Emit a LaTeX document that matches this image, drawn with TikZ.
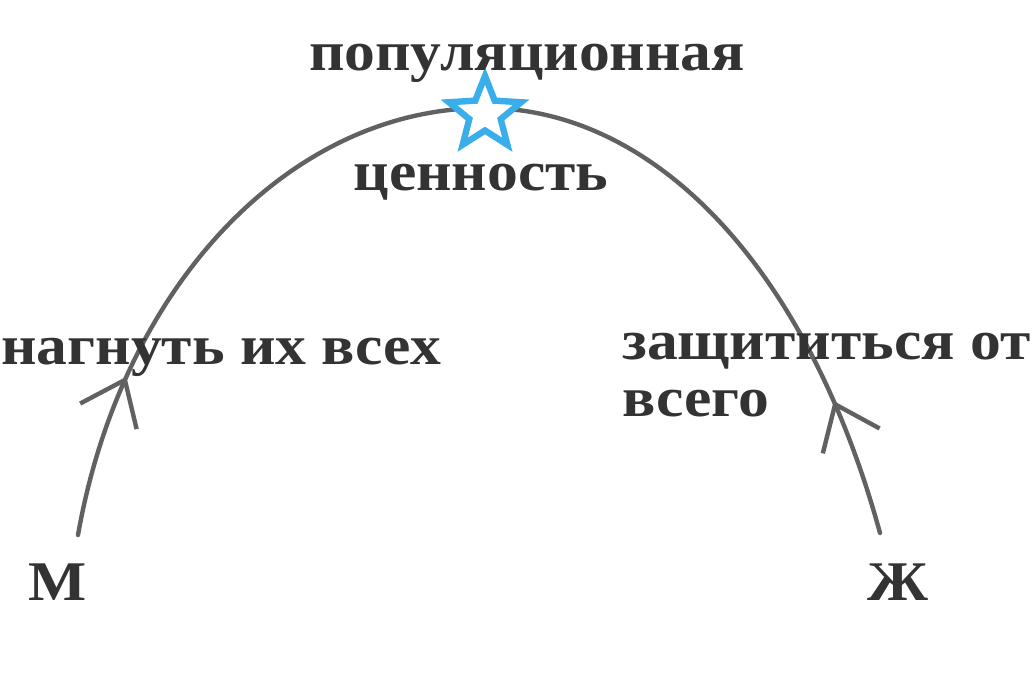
\documentclass[tikz,border=0pt]{standalone}
\usepackage{fontspec}
\setmainfont{Liberation Serif}
\newfontfamily\widefont{Liberation Serif}[FakeStretch=1.1]
\usetikzlibrary{shapes.geometric,arrows.meta,decorations.markings}
\definecolor{starblue}{HTML}{3AAEEA}

\begin{document}
\begin{tikzpicture}[x=0.5pt,y=-0.5pt,
    lbl/.style={text=black!80,font=\widefont\fontsize{28}{28.5}\selectfont\bfseries,inner sep=0pt},
    branch/.style={draw=black!62,line width=2.2pt,line cap=round},
    barb/.style={postaction={decorate,decoration={markings,
        mark=at position #1 with {\arrow[black!62,line width=2.2pt]{Straight Barb[length=20pt,width=31pt]}}}}}]
   \useasboundingbox (0,0) rectangle (1033,680);
   % the two branches meet under the star
   \coordinate (mfoot) at (78,535);
   \coordinate (zfoot) at (880,533);
   \coordinate (apex) at (485,108);
   \draw[branch,barb=83pt] (mfoot) .. controls +(44,-250) and +(-194,0) .. (apex);
   \draw[branch,barb=70pt] (zfoot) .. controls +(-75,-273) and +(165,0) .. (apex);
   \node[star,star points=5,star point ratio=2.3,minimum size=38pt,inner sep=0pt,
         draw=starblue,fill=white,line width=3.2pt] (star) at (485,114) {};
   % labels
   \node[lbl,anchor=base] (value) at (527,70) {популяционная};
   \node[lbl,anchor=base] (value2) at (481,190) {ценность};
   \node[lbl,anchor=base west] (attack) at (1,364) {нагнуть их всех};
   \node[lbl,anchor=base west,align=left] (defend) at (622,416) {защититься от\\всего};
   \node[lbl,anchor=base] (male) at (58,600) {М};
   \node[lbl,anchor=base] (female) at (898,600) {Ж};
\end{tikzpicture}
\end{document}
